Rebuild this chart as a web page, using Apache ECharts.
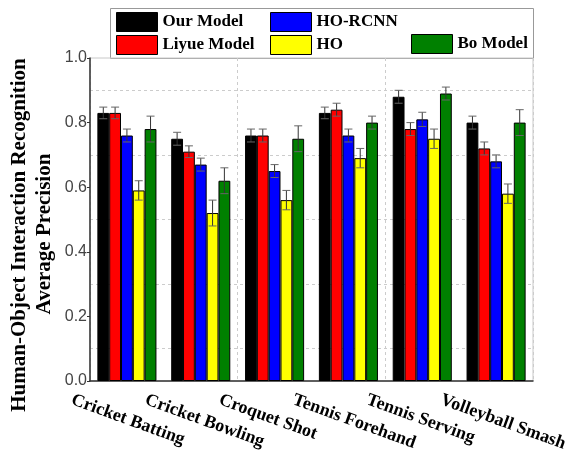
<!DOCTYPE html>
<html>
<head>
<meta charset="utf-8">
<script src="https://cdn.jsdelivr.net/npm/echarts@6/dist/echarts.min.js"></script>
<style>html,body{margin:0;padding:0;background:#fff}#c{width:579px;height:452px}</style>
</head>
<body>
<div id="c"></div>
<script>
const categories = ['Cricket Batting','Cricket Bowling','Croquet Shot','Tennis Forehand','Tennis Serving','Volleyball Smash'];
const seriesNames = ['Our Model','Liyue Model','HO-RCNN','HO','Bo Model'];
const seriesColors = ['#000000','#ff0000','#0000ff','#ffff00','#008000'];
const ourModel   = [0.83, 0.75, 0.76, 0.83, 0.88, 0.80];
const liyueModel = [0.83, 0.71, 0.76, 0.84, 0.78, 0.72];
const hoRcnn     = [0.76, 0.67, 0.65, 0.76, 0.81, 0.68];
const ho         = [0.59, 0.52, 0.56, 0.69, 0.75, 0.58];
const boModel    = [0.78, 0.62, 0.75, 0.80, 0.89, 0.80];
const ourErr   = [0.018, 0.02, 0.02, 0.018, 0.02, 0.02];
const liyueErr = [0.018, 0.018, 0.02, 0.02, 0.02, 0.02];
const hoRcnnErr= [0.02, 0.02, 0.02, 0.02, 0.022, 0.02];
const hoErr    = [0.03, 0.04, 0.03, 0.03, 0.03, 0.03];
const boErr    = [0.04, 0.04, 0.04, 0.02, 0.02, 0.04];
const yTicks = [0.0, 0.2, 0.4, 0.6, 0.8, 1.0];
const yTitleLines = ['Human-Object Interaction Recognition', 'Average Precision'];

const values = [ourModel, liyueModel, hoRcnn, ho, boModel];
const errors = [ourErr, liyueErr, hoRcnnErr, hoErr, boErr];
const CAT_GAP = 0.2;
const NS = values.length;

const chart = echarts.init(document.getElementById('c'));
const serif = 'Liberation Serif, Times New Roman, serif';

const barSeries = values.map((v, i) => ({
  name: seriesNames[i],
  type: 'bar',
  data: v,
  barGap: '0%',
  barCategoryGap: (CAT_GAP*100) + '%',
  itemStyle: { color: seriesColors[i], borderColor: '#000', borderWidth: 1 },
  z: 2
}));

const errSeries = values.map((v, i) => ({
  name: seriesNames[i] + ' err',
  type: 'custom',
  z: 5,
  silent: true,
  data: v.map((val, j) => [j, val, errors[i][j]]),
  renderItem: function (params, api) {
    const ci = api.value(0), val = api.value(1), e = api.value(2);
    const band = api.size([1, 0])[0];
    const bw = band * (1 - CAT_GAP) / NS;
    const c = api.coord([ci, val]);
    const x = c[0] + (i - (NS - 1) / 2) * bw;
    const yt = api.coord([ci, val + e])[1];
    const yb = api.coord([ci, val - e])[1];
    const cap = 4;
    return { type: 'group', children: [
      { type: 'line', shape: { x1: x, y1: yt, x2: x, y2: yb }, style: { stroke: '#333', lineWidth: 1 } },
      { type: 'line', shape: { x1: x - cap, y1: yt, x2: x + cap, y2: yt }, style: { stroke: '#666', lineWidth: 1 } },
      { type: 'line', shape: { x1: x - cap, y1: yb, x2: x + cap, y2: yb }, style: { stroke: '#666', lineWidth: 1 } }
    ]};
  }
}));

// category labels, placed from the category axis scale
const labelSeries = {
  name: 'labels', type: 'custom', silent: true, clip: false, z: 6,
  data: categories.map((c, j) => [j, 0]),
  renderItem: function (params, api) {
    const j = api.value(0);
    const p = api.coord([j, 0]);
    return {
      type: 'text', x: p[0] - 52, y: p[1] + 10, rotation: -20 * Math.PI / 180,
      style: { text: categories[j], fill: '#000', align: 'left', verticalAlign: 'top',
               fontFamily: serif, fontWeight: 'bold', fontSize: 18 }
    };
  }
};

const legendCommon = {
  orient: 'vertical', itemWidth: 41, itemHeight: 19, itemGap: 3, icon: 'rect',
  selectedMode: false, padding: 0,
  itemStyle: { borderColor: '#000', borderWidth: 1 },
  textStyle: { fontFamily: serif, fontWeight: 'bold', fontSize: 17, color: '#000' }
};

chart.setOption({
  animation: false,
  backgroundColor: '#fff',
  color: seriesColors,
  grid: { left: 90, right: 46, top: 58, bottom: 71, outerBoundsMode: 'none', containLabel: false,
          show: true, borderColor: '#c8c8c8', borderWidth: 1 },
  legend: [
    Object.assign({}, legendCommon, { left: 116, top: 12, data: [seriesNames[0], seriesNames[1]] }),
    Object.assign({}, legendCommon, { left: 270, top: 12, data: [seriesNames[2], seriesNames[3]] }),
    Object.assign({}, legendCommon, { left: 411, top: 34, data: [seriesNames[4]] })
  ],
  graphic: [
    { type: 'rect', left: 110, top: 8, z: -1,
      shape: { width: 423, height: 50 },
      style: { fill: '#fff', stroke: '#999', lineWidth: 1 } },
    { type: 'text', x: 20, y: 235, rotation: Math.PI / 2,
      style: { text: yTitleLines[0], align: 'center', verticalAlign: 'middle', fill: '#000',
               fontFamily: serif, fontWeight: 'bold', fontSize: 21 } },
    { type: 'text', x: 45, y: 234, rotation: Math.PI / 2,
      style: { text: yTitleLines[1], align: 'center', verticalAlign: 'middle', fill: '#000',
               fontFamily: serif, fontWeight: 'bold', fontSize: 21 } }
  ],
  xAxis: {
    type: 'category',
    data: categories,
    axisLine: { lineStyle: { color: '#333', width: 1.5 } },
    axisTick: { show: false },
    axisLabel: { show: false },
    splitLine: { show: true, lineStyle: { color: '#ccc', type: [3, 3] } }
  },
  yAxis: {
    type: 'value', min: 0, max: 1, interval: 0.2,
    axisLine: { show: true, lineStyle: { color: '#333', width: 1.5 } },
    axisTick: { show: true, length: 3, lineStyle: { color: '#333' } },
    axisLabel: {
      margin: 3, fontFamily: 'Liberation Sans, Arial, sans-serif', fontSize: 16, color: '#444',
      formatter: v => { const t = yTicks.find(tk => Math.abs(tk - v) < 1e-9); return t === undefined ? '' : t.toFixed(1); }
    },
    splitLine: { show: false },
    minorTick: { show: false, splitNumber: 2 },
    minorSplitLine: { show: true, lineStyle: { color: '#ccc', type: [3, 3] } }
  },
  series: barSeries.concat(errSeries, [labelSeries])
});
</script>
</body>
</html>
